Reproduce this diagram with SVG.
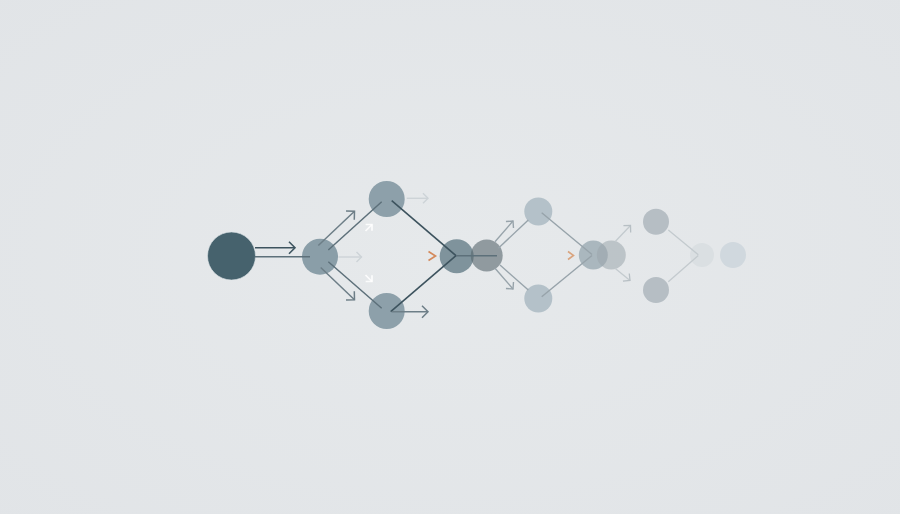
<svg xmlns="http://www.w3.org/2000/svg" width="900" height="514" viewBox="0 0 900 514">
  <defs>
    <radialGradient id="bg" cx="50%" cy="50%" r="75%">
      <stop offset="0" stop-color="#e6e9eb"/>
      <stop offset="1" stop-color="#e1e4e7"/>
    </radialGradient>
    <marker id="h-dark" viewBox="0 0 12 12" markerUnits="userSpaceOnUse" markerWidth="12" markerHeight="12" refX="7" refY="6" orient="auto" overflow="visible">
      <path d="M1,0 L7,6 L1,12" fill="none" stroke="#3f5661" stroke-width="1.6"/>
    </marker>
    <marker id="h-gray" viewBox="0 0 12 12" markerUnits="userSpaceOnUse" markerWidth="12" markerHeight="12" refX="7" refY="6" orient="auto" overflow="visible">
      <path d="M1,0 L7,6 L1,12" fill="none" stroke="#6d7e87" stroke-width="1.5"/>
    </marker>
    <marker id="h-mid" viewBox="0 0 12 12" markerUnits="userSpaceOnUse" markerWidth="12" markerHeight="12" refX="7" refY="6" orient="auto" overflow="visible">
      <path d="M2,1 L7,6 L2,11" fill="none" stroke="#97a3aa" stroke-width="1.4"/>
    </marker>
    <marker id="h-light" viewBox="0 0 12 12" markerUnits="userSpaceOnUse" markerWidth="12" markerHeight="12" refX="7" refY="6" orient="auto" overflow="visible">
      <path d="M2,1 L7,6 L2,11" fill="none" stroke="#b7bfc4" stroke-width="1.3"/>
    </marker>
    <marker id="h-faint" viewBox="0 0 12 12" markerUnits="userSpaceOnUse" markerWidth="12" markerHeight="12" refX="7" refY="6" orient="auto" overflow="visible">
      <path d="M2,1 L7,6 L2,11" fill="none" stroke="#cdd3d7" stroke-width="1.4"/>
    </marker>
    <marker id="h-white" viewBox="0 0 12 12" markerUnits="userSpaceOnUse" markerWidth="12" markerHeight="12" refX="6" refY="6" orient="auto" overflow="visible">
      <path d="M1.5,1.5 L6,6 L1.5,10.5" fill="none" stroke="#ffffff" stroke-opacity="0.85" stroke-width="1.7"/>
    </marker>
  </defs>
  <style>
    .dark { stroke: #3d535e; stroke-width: 1.6; fill: none; }
    .gray { stroke: #6d7e87; stroke-width: 1.5; fill: none; }
    .link1 { stroke: #5d707a; stroke-width: 1.5; fill: none; }
    .mid { stroke: #97a3aa; stroke-width: 1.4; fill: none; }
    .light { stroke: #c3cace; stroke-width: 1.3; fill: none; }
    .faint { stroke: #cdd3d7; stroke-width: 1.4; fill: none; }
    .white { stroke: #ffffff; stroke-opacity: 0.85; stroke-width: 1.7; fill: none; }
    .orange { stroke: #d48a5c; stroke-width: 1.7; fill: none; }
    .orange2 { stroke: #d9a47f; stroke-width: 1.6; fill: none; }
  </style>
  <rect width="900" height="514" fill="url(#bg)"/>

  <g id="node-start"><circle cx="231.5" cy="256" r="24" fill="#46626d" stroke="#dfe6ea" stroke-opacity="0.6" stroke-width="1"/></g>
  <g id="node-a"><circle cx="320" cy="256.7" r="18" fill="#8a9ea8"/></g>
  <g id="node-a-top"><circle cx="386.7" cy="199" r="18" fill="#8da0aa"/></g>
  <g id="node-a-bottom"><circle cx="386.7" cy="311" r="18" fill="#8da0aa"/></g>
  <g id="node-b"><circle cx="456.7" cy="256.3" r="17" fill="#7f939c"/></g>
  <g id="node-b2"><circle cx="486.7" cy="255.5" r="16" fill="#56656d" fill-opacity="0.6"/></g>
  <g id="node-c-top"><circle cx="538.3" cy="211.5" r="14" fill="#b4c1c9"/></g>
  <g id="node-c-bottom"><circle cx="538.3" cy="298.5" r="14" fill="#b4c1c9"/></g>
  <g id="node-d"><circle cx="593.3" cy="255" r="14.5" fill="#8a9ca6" fill-opacity="0.65"/></g>
  <g id="node-d2"><circle cx="611.3" cy="255" r="14.5" fill="#9aa5ac" fill-opacity="0.55"/></g>
  <g id="node-e-top"><circle cx="656" cy="221.7" r="13" fill="#b6bec4"/></g>
  <g id="node-e-bottom"><circle cx="656" cy="290" r="13" fill="#b6bec4"/></g>
  <g id="node-f"><circle cx="702" cy="255" r="12" fill="#dadfe2"/></g>
  <g id="node-g"><circle cx="733" cy="255" r="13" fill="#d0d8de"/></g>

  <g id="connectors">
    <path class="dark" d="M255,247.7 L295,247.7" marker-end="url(#h-dark)"/>
    <path class="link1" d="M255,256.7 L310,256.7" stroke="#4b5f69"/>
    <path class="gray" d="M318.3,245.5 L354.5,211.2" marker-end="url(#h-gray)"/>
    <path class="link1" d="M328.3,250 L381.7,201.7"/>
    <path class="gray" d="M320.7,267.5 L354.5,299.8" marker-end="url(#h-gray)"/>
    <path class="link1" d="M328.3,261.7 L381.7,308.3"/>
    <path class="faint" d="M338.3,257 L361.5,257" marker-end="url(#h-faint)"/>
    <path class="white" d="M365.5,231 L372,224.5" marker-end="url(#h-white)"/>
    <path class="white" d="M365.5,275 L372,281.5" marker-end="url(#h-white)"/>
    <path class="dark" d="M391.7,200.7 L456,255.7"/>
    <path class="dark" d="M390.7,311.7 L456,255.7"/>
    <path class="gray" d="M391.7,311.7 L428,311.7" marker-end="url(#h-gray)"/>
    <path class="faint" d="M406.7,198.3 L428,198.3" marker-end="url(#h-faint)" stroke="#d5d9dc"/>
    <path class="orange" d="M428.5,251.5 L435.5,256 L428.5,260.5"/>
    <path class="link1" d="M456,255.7 L497,255.7" stroke="#5a6b73" stroke-width="1.2"/>
    <path class="mid" d="M495,241.7 L513,221" marker-end="url(#h-mid)"/>
    <path class="mid" d="M498.3,248.3 L528.3,220" stroke="#a3aeb4"/>
    <path class="mid" d="M495,268.3 L513,289" marker-end="url(#h-mid)"/>
    <path class="mid" d="M500,265 L528.3,290" stroke="#a3aeb4"/>
    <path class="mid" d="M541.7,212.7 L592,254.5" stroke="#929ea5"/>
    <path class="mid" d="M541.7,296.7 L592,255.5" stroke="#929ea5"/>
    <path class="orange2" d="M568,251.5 L573.5,255.5 L568,259.5"/>
    <path class="light" d="M615,241.7 L630.5,225.5" marker-end="url(#h-light)"/>
    <path class="light" d="M615,268.3 L630,280.5" marker-end="url(#h-light)"/>
    <path class="light" d="M668.3,230 L698.3,254.8" stroke="#d0d5d9"/>
    <path class="light" d="M668.3,281.7 L698.3,255.5" stroke="#d0d5d9"/>
  </g>
</svg>
